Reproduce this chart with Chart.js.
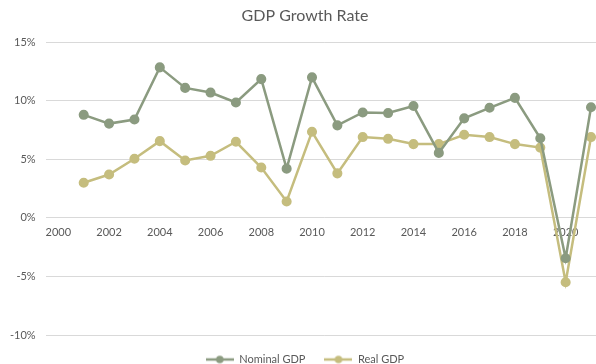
<!DOCTYPE html>
<html>
<head>
<meta charset="utf-8">
<script src="https://cdn.jsdelivr.net/npm/chart.js@4"></script>
<style>
  html, body { margin: 0; padding: 0; background: #fff; overflow: hidden; }
  #wrap { width: 610px; height: 375px; }
</style>
</head>
<body>
<div id="wrap"><canvas id="grafico" width="610" height="375"></canvas></div>
<script>
var anos = ['2000', '2001', '2002', '2003', '2004', '2005', '2006', '2007', '2008', '2009', '2010',
  '2011', '2012', '2013', '2014', '2015', '2016', '2017', '2018', '2019', '2020', '2021'];
var nominal = [null, 8.8, 8.05, 8.4, 12.85, 11.1, 10.7, 9.85, 11.85, 4.2, 12.0,
  7.9, 9.0, 8.95, 9.55, 5.55, 8.5, 9.4, 10.25, 6.8, -3.45, 9.45];
var real = [null, 3.0, 3.7, 5.05, 6.55, 4.9, 5.3, 6.5, 4.3, 1.4, 7.35,
  3.8, 6.9, 6.75, 6.3, 6.3, 7.1, 6.9, 6.3, 6.0, -5.5, 6.9];
var yTicks = [-10, -5, 0, 5, 10, 15];

var corNominal = 'rgb(139, 155, 128)';
var corReal = 'rgb(197, 189, 126)';
var corTexto = '#595959';

// marcador de legenda estilo Excel (linha + bolinha)
function marcador(cor) {
  var c = document.createElement('canvas');
  c.width = 28; c.height = 10;
  var g = c.getContext('2d');
  g.strokeStyle = cor; g.lineWidth = 2.5;
  g.beginPath(); g.moveTo(0, 5); g.lineTo(28, 5); g.stroke();
  g.fillStyle = cor;
  g.beginPath(); g.arc(14, 5, 3.8, 0, Math.PI * 2); g.fill();
  return c;
}

var ctx = document.getElementById('grafico').getContext('2d');
var meuGrafico = new Chart(ctx, {
  type: 'line',
  data: {
    labels: anos,
    datasets: [{
      label: 'Nominal GDP',
      data: nominal,
      borderColor: corNominal,
      backgroundColor: corNominal,
      borderWidth: 2.5,
      pointRadius: 3.8,
      pointHoverRadius: 3.8,
      tension: 0
    }, {
      label: 'Real GDP',
      data: real,
      borderColor: corReal,
      backgroundColor: corReal,
      borderWidth: 2.5,
      pointRadius: 3.8,
      pointHoverRadius: 3.8,
      tension: 0
    }]
  },
  options: {
    responsive: false,
    animation: false,
    layout: { padding: { left: 0, right: 0, top: 4, bottom: 0 } },
    scales: {
      x: {
        type: 'category',
        offset: true,
        position: { y: 0 },
        grid: { display: false, drawTicks: false },
        border: { display: false },
        ticks: {
          autoSkip: false,
          maxRotation: 0,
          padding: 8,
          color: corTexto,
          font: { family: 'Lato', size: 11 },
          callback: function (value, index) {
            return index % 2 === 0 ? anos[index] : '';
          }
        }
      },
      y: {
        min: yTicks[0],
        max: yTicks[yTicks.length - 1],
        afterBuildTicks: function (axis) {
          axis.ticks = yTicks.map(function (v) { return { value: v }; });
        },
        grid: { color: '#d9d9d9', lineWidth: 1, drawTicks: false },
        border: { display: false },
        ticks: {
          padding: 10,
          color: corTexto,
          font: { family: 'Lato', size: 11 },
          callback: function (value) { return value + '%'; }
        }
      }
    },
    plugins: {
      title: {
        display: true,
        text: 'GDP Growth Rate',
        color: corTexto,
        font: { family: 'Lato', size: 16, weight: 'normal' },
        padding: { top: 2, bottom: 17 }
      },
      legend: {
        display: true,
        position: 'bottom',
        labels: {
          usePointStyle: true,
          pointStyleWidth: 28,
          boxHeight: 10,
          color: corTexto,
          font: { family: 'Lato', size: 11 },
          padding: 19,
          generateLabels: function (chart) {
            var itens = Chart.defaults.plugins.legend.labels.generateLabels(chart);
            itens.forEach(function (item, i) {
              item.pointStyle = marcador(chart.data.datasets[i].borderColor);
            });
            return itens;
          }
        }
      },
      tooltip: { enabled: false }
    }
  }
});
</script>
</body>
</html>
